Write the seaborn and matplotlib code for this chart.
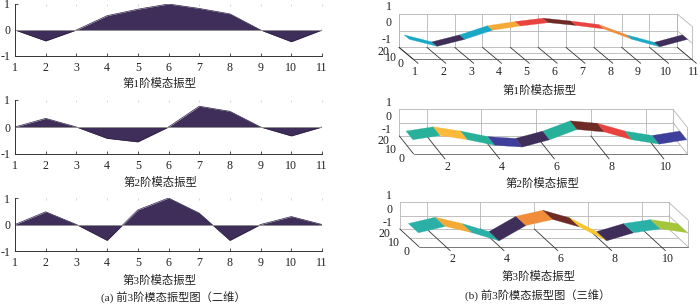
import matplotlib
matplotlib.use("Agg")
import matplotlib.pyplot as plt
import seaborn as sns
import pandas as pd

# mode shape data
nodes = [1, 2, 3, 4, 5, 6, 7, 8, 9, 10, 11]
mode1 = [0, -0.42, 0, 0.55, 0.8, 1, 0.83, 0.62, 0, -0.45, 0]
mode2 = [0, 0.32, 0, -0.42, -0.55, 0, 0.77, 0.58, 0, -0.33, 0]
mode3 = [0, 0.48, 0, -0.6, 0.55, 1, 0.43, -0.6, 0, 0.3, 0]
modes = [mode1, mode2, mode3]

captions = ["第1阶模态振型", "第2阶模态振型", "第3阶模态振型"]
caption_a = "(a) 前3阶模态振型图（二维）"
caption_b = "(b) 前3阶模态振型图（三维）"

z_ticks = [1, 0, -1]
y_ticks = [20, 10, 0]
x_ticks_3d = [nodes, [2, 4, 6, 8, 10], [2, 4, 6, 8, 10]]

PURPLE = "#3f2d5a"
CYAN = "#19a9c6"
ORANGE = "#f5a936"
RED = "#e8433f"
BROWN = "#6e2a25"
LORANGE = "#f08c3a"
TEAL = "#27b09a"
YELLOW = "#fdb93a"
BLUE = "#3e3f9b"
GOLD = "#f8c62c"
LIME = "#a5c63a"
TEAL3 = "#2bb0a8"
seg_colors = [
    [CYAN, PURPLE, CYAN, ORANGE, RED, BROWN, RED, LORANGE, CYAN, PURPLE],
    [TEAL, YELLOW, TEAL, BLUE, PURPLE, TEAL, BROWN, RED, TEAL, BLUE],
    [TEAL3, ORANGE, TEAL3, PURPLE, LORANGE, BROWN, GOLD, PURPLE, TEAL3, LIME],
]
# depth of the ribbon in each surface
ribbon_y = [(5.6, 13), (1, 10.6), (0.6, 11)]

W, H = 700, 304
GRID = "#b5b5b5"
DARK = "#333333"
TICK_FS = 8.6

# pixel layout of the oblique view for each 3d panel
views = [
    dict(x0=399.0, dx=27.83, top=14.0, zu=16.67, sx=14.3, sy=12.0, xl=(2, 13), zl=-7.5, ext=4),
    dict(x0=399.3, dx=27.37, top=109.3, zu=13.33, sx=14.3, sy=18.0, xl=(6, 13), zl=-6.0, ext=5),
    dict(x0=399.7, dx=26.9, top=202.3, zu=13.33, sx=19.3, sy=17.7, xl=(7, 12), zl=-6.0, ext=4),
]
left_boxes = [(15, 4, 322, 56), (15, 100, 322, 154), (15, 198, 322, 251)]
caption_left_y = [83, 182, 280]
caption_right = [(540, 90), (542, 183), (539, 276)]

sns.set_theme(style="ticks")
plt.rcParams["font.family"] = ["Liberation Serif", "Noto Sans CJK SC"]
plt.rcParams["axes.unicode_minus"] = False

fig = plt.figure(figsize=(W / 100, H / 100), dpi=100)


def plot_2d(values, box):
    x1, y1, x2, y2 = box
    ax = fig.add_axes([x1 / W, 1 - y2 / H, (x2 - x1) / W, (y2 - y1) / H])
    df = pd.DataFrame({"node": nodes, "amp": values})
    ax.fill_between(df["node"], df["amp"], 0, color=PURPLE, lw=0)
    sns.lineplot(data=df, x="node", y="amp", ax=ax, color="#2c2140", lw=0.5)
    ax.axhline(0, color="#8f8f8f", lw=0.7)
    ax.set_xlim(1, 11)
    ax.set_ylim(-1, 1)
    ax.set_xticks(nodes)
    ax.set_yticks(z_ticks)
    ax.set_xlabel("")
    ax.set_ylabel("")
    ax.tick_params(direction="in", length=2.5, width=0.6, labelsize=TICK_FS, color=DARK, labelcolor="#222222")
    ax.tick_params(axis="x", pad=4.5)
    ax.tick_params(axis="y", pad=3.5)
    # faint marks along the open top edge
    top = ax.secondary_xaxis("top")
    top.set_xticks(nodes)
    top.set_xticklabels([])
    top.tick_params(direction="in", length=1.5, width=0.5, color="#c4c4c4")
    top.spines["top"].set_visible(False)
    for side in ["top", "right"]:
        ax.spines[side].set_visible(False)
    for side in ["left", "bottom"]:
        ax.spines[side].set_linewidth(0.7)
        ax.spines[side].set_color(DARK)


def project(v, x, y, z):
    px = v["x0"] + (x - 1) * v["dx"] + (20 - y) / 20 * v["sx"]
    py = v["top"] + (1 - z) * v["zu"] + (20 - y) / 20 * v["sy"]
    return px, py


def line3d(ax, v, a, b, **kw):
    p, q = project(v, *a), project(v, *b)
    ax.plot([p[0], q[0]], [p[1], q[1]], **kw)


def plot_3d(ax, v, values, colors, x_ticks, y_band):
    g = dict(color=GRID, lw=0.6, zorder=1)
    d = dict(color=DARK, lw=0.6, zorder=1.5)
    # back wall and side wall
    for z in z_ticks:
        line3d(ax, v, (1, 20, z), (11, 20, z), **g)
        line3d(ax, v, (11, 20, z), (11, 0, z), **g)
    for x in x_ticks:
        line3d(ax, v, (x, 20, 1), (x, 20, -1), **g)
    line3d(ax, v, (1, 20, 1), (1, 20, -1), **g)
    line3d(ax, v, (11, 20, 1), (11, 20, -1), **g)
    line3d(ax, v, (11, 0, 1), (11, 0, -1), **g)
    # floor
    line3d(ax, v, (1, 10, -1), (11, 10, -1), **g)
    line3d(ax, v, (1, 0, -1), (11, 0, -1), color="#777777", lw=0.7, zorder=1.5)
    line3d(ax, v, (1, 20, -1), (1, 0, -1), **d)
    # depth ticks stick out past the front edge
    for x in x_ticks:
        p = project(v, x, 20, -1)
        q = project(v, x, 0, -1)
        k = 1 + v["ext"] / v["sy"]
        ax.plot([p[0], p[0] + (q[0] - p[0]) * k], [p[1], p[1] + (q[1] - p[1]) * k], **d)
    # ribbon
    y_lo, y_hi = y_band
    for i, col in enumerate(colors):
        corners = [
            project(v, nodes[i], y_hi, values[i]),
            project(v, nodes[i + 1], y_hi, values[i + 1]),
            project(v, nodes[i + 1], y_lo, values[i + 1]),
            project(v, nodes[i], y_lo, values[i]),
        ]
        ax.fill([c[0] for c in corners], [c[1] for c in corners], color=col, lw=0.2, zorder=3)
    # labels
    for x in x_ticks:
        q = project(v, x, 0, -1)
        ax.text(q[0] + v["xl"][0], q[1] + v["xl"][1], str(x), ha="center", va="center", fontsize=TICK_FS, color="#222222")
    for z in z_ticks:
        p = project(v, 1, 20, z)
        ax.text(p[0] - 7.5, p[1] + v["zl"], str(z), ha="right", va="center", fontsize=TICK_FS, color="#222222")
    for y in y_ticks:
        p = project(v, 1, y, -1)
        ax.text(p[0] - 9.5, p[1] + 5, str(y), ha="right", va="center", fontsize=TICK_FS, color="#222222")


for vals, box in zip(modes, left_boxes):
    plot_2d(vals, box)

# overlay in pixel units for the oblique panels and the captions
over = fig.add_axes([0, 0, 1, 1])
over.set_xlim(0, W)
over.set_ylim(H, 0)
over.axis("off")
over.patch.set_alpha(0)

for i in range(3):
    plot_3d(over, views[i], modes[i], seg_colors[i], x_ticks_3d[i], ribbon_y[i])
    over.text(160, caption_left_y[i], captions[i], ha="center", va="center", fontsize=8.2, color="#222222")
    over.text(caption_right[i][0], caption_right[i][1], captions[i], ha="center", va="center", fontsize=8.2, color="#222222")

over.text(173.5, 298, caption_a, ha="center", va="center", fontsize=8.1, color="#222222")
over.text(538, 296, caption_b, ha="center", va="center", fontsize=8.1, color="#222222")

fig.savefig("out.png", dpi=100)
plt.close(fig)
